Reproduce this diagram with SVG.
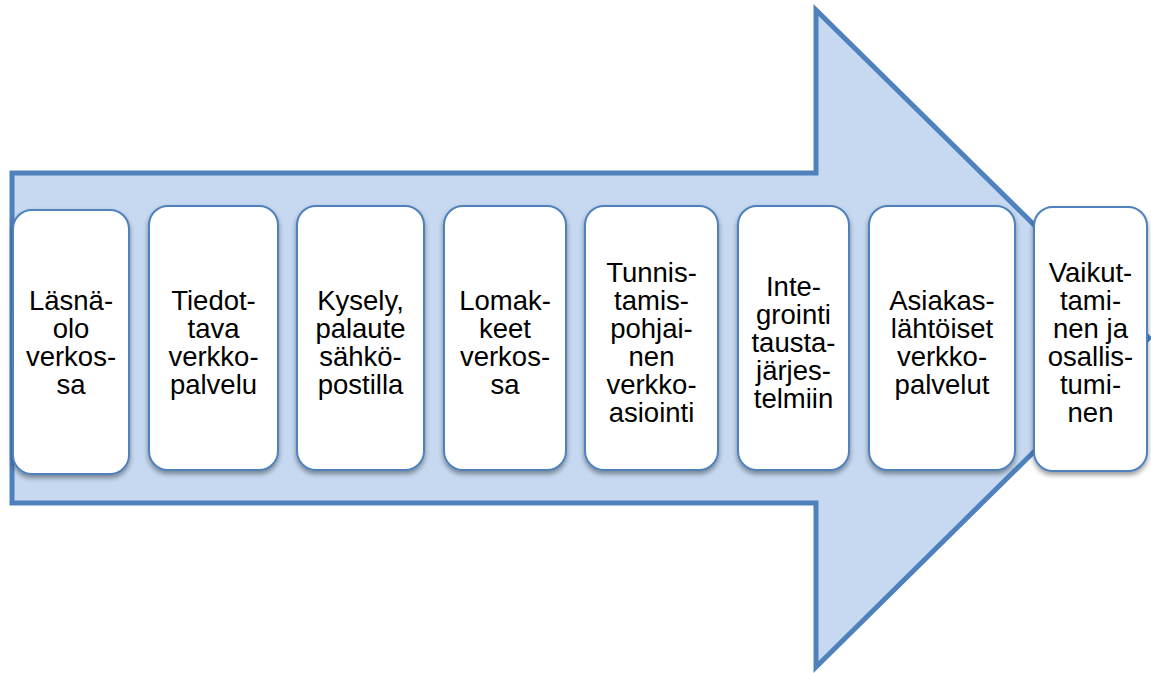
<svg xmlns="http://www.w3.org/2000/svg" width="1151" height="673" viewBox="0 0 1151 673">
  <defs>
    <filter id="shadow" x="-10%" y="-10%" width="120%" height="120%">
      <feDropShadow dx="0" dy="3" stdDeviation="2.5" flood-color="#000" flood-opacity="0.4"/>
    </filter>
  </defs>
  <style>
    .arrow { fill: #c6d9f1; stroke: #4f81bd; stroke-width: 5; stroke-linejoin: miter; }
    .box { fill: #ffffff; stroke: #4f81bd; stroke-width: 2; filter: url(#shadow); }
    .label { font-family: "Liberation Sans", Arial, sans-serif; font-size: 27.5px; fill: #000000; text-anchor: middle; }
  </style>

  <!-- large process arrow in the background -->
  <g id="connectors">
    <polygon class="arrow" points="12,173 816,173 816,10 1149,338 816,667 816,503 12,503"/>
  </g>

  <g id="node-1">
    <rect class="box" x="13" y="210" width="116" height="264" rx="19"/>
    <text class="label" x="71" y="310">
      <tspan x="71">Läsnä-</tspan><tspan x="71" dy="28">olo</tspan><tspan x="71" dy="28">verkos-</tspan><tspan x="71" dy="28">sa</tspan>
    </text>
  </g>

  <g id="node-2">
    <rect class="box" x="149" y="206" width="129" height="264" rx="19"/>
    <text class="label" x="213.5" y="310">
      <tspan x="213.5">Tiedot-</tspan><tspan x="213.5" dy="28">tava</tspan><tspan x="213.5" dy="28">verkko-</tspan><tspan x="213.5" dy="28">palvelu</tspan>
    </text>
  </g>

  <g id="node-3">
    <rect class="box" x="297" y="206" width="127" height="264" rx="19"/>
    <text class="label" x="360.5" y="310">
      <tspan x="360.5">Kysely,</tspan><tspan x="360.5" dy="28">palaute</tspan><tspan x="360.5" dy="28">sähkö-</tspan><tspan x="360.5" dy="28">postilla</tspan>
    </text>
  </g>

  <g id="node-4">
    <rect class="box" x="444" y="206" width="122" height="264" rx="19"/>
    <text class="label" x="505" y="310">
      <tspan x="505">Lomak-</tspan><tspan x="505" dy="28">keet</tspan><tspan x="505" dy="28">verkos-</tspan><tspan x="505" dy="28">sa</tspan>
    </text>
  </g>

  <g id="node-5">
    <rect class="box" x="585" y="206" width="133" height="264" rx="19"/>
    <text class="label" x="651.5" y="282">
      <tspan x="651.5">Tunnis-</tspan><tspan x="651.5" dy="28">tamis-</tspan><tspan x="651.5" dy="28">pohjai-</tspan><tspan x="651.5" dy="28">nen</tspan><tspan x="651.5" dy="28">verkko-</tspan><tspan x="651.5" dy="28">asiointi</tspan>
    </text>
  </g>

  <g id="node-6">
    <rect class="box" x="738" y="206" width="111" height="264" rx="19"/>
    <text class="label" x="793.5" y="296">
      <tspan x="793.5">Inte-</tspan><tspan x="793.5" dy="28">grointi</tspan><tspan x="793.5" dy="28">tausta-</tspan><tspan x="793.5" dy="28">järjes-</tspan><tspan x="793.5" dy="28">telmiin</tspan>
    </text>
  </g>

  <g id="node-7">
    <rect class="box" x="869" y="206" width="146" height="264" rx="19"/>
    <text class="label" x="942" y="310">
      <tspan x="942">Asiakas-</tspan><tspan x="942" dy="28">lähtöiset</tspan><tspan x="942" dy="28">verkko-</tspan><tspan x="942" dy="28">palvelut</tspan>
    </text>
  </g>

  <g id="node-8">
    <rect class="box" x="1034" y="207" width="113" height="264" rx="19"/>
    <text class="label" x="1090.5" y="282">
      <tspan x="1090.5">Vaikut-</tspan><tspan x="1090.5" dy="28">tami-</tspan><tspan x="1090.5" dy="28">nen ja</tspan><tspan x="1090.5" dy="28">osallis-</tspan><tspan x="1090.5" dy="28">tumi-</tspan><tspan x="1090.5" dy="28">nen</tspan>
    </text>
  </g>
</svg>
